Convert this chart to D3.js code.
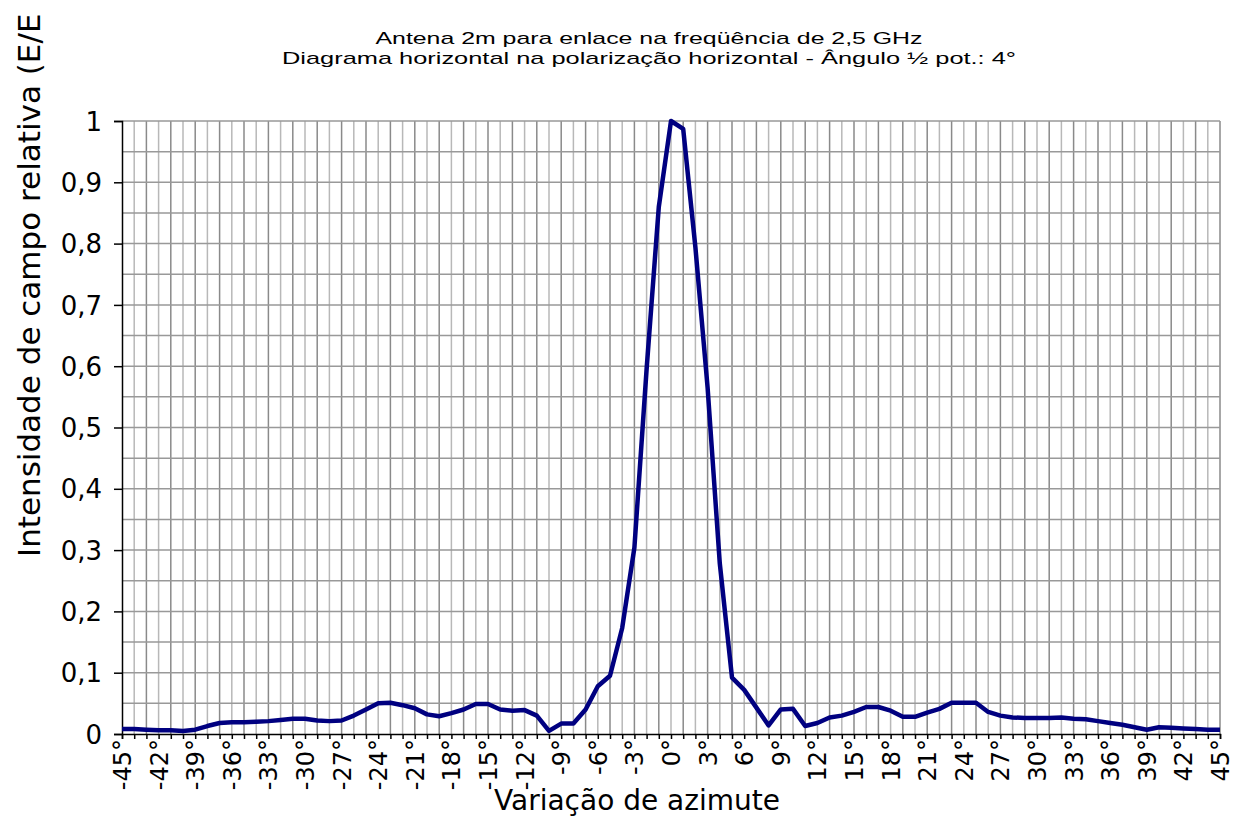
<!DOCTYPE html>
<meta charset="utf-8">
<style>
body{margin:0;background:white}
text{font-family:"DejaVu Sans",sans-serif;fill:#000}
.title{font-family:"Liberation Sans",sans-serif;font-size:17px}
</style>
<svg width="1236" height="817"></svg>
<script src="https://d3js.org/d3.v7.min.js"></script>
<script>

// azimuth in degrees, one point per degree
var angles = d3.range(-45, 46);

// relative field E/Emax
var field = [
  0.008, 0.008, 0.007, 0.006, 0.006, 0.005, 0.007, 0.013, 0.018, 0.019,   // -45..-36
  0.019, 0.020, 0.021, 0.023, 0.025, 0.025, 0.022, 0.021, 0.022, 0.030,   // -35..-26
  0.040, 0.050, 0.051, 0.047, 0.042, 0.032, 0.029, 0.034, 0.040, 0.049,   // -25..-16
  0.049, 0.040, 0.038, 0.039, 0.030, 0.005, 0.017, 0.017, 0.040, 0.078,   // -15..-6
  0.095, 0.173, 0.304, 0.595, 0.860, 1.000, 0.987, 0.794, 0.565, 0.278,   // -5..4
  0.092, 0.072, 0.043, 0.014, 0.040, 0.041, 0.013, 0.018, 0.027, 0.030,   // 5..14
  0.036, 0.044, 0.044, 0.038, 0.028, 0.028, 0.035, 0.041, 0.051, 0.051,   // 15..24
  0.051, 0.036, 0.030, 0.027, 0.026, 0.026, 0.026, 0.027, 0.025, 0.024,   // 25..34
  0.021, 0.018, 0.015, 0.011, 0.007, 0.011, 0.010, 0.009, 0.008, 0.007,   // 35..44
  0.007                                                                   // 45
];

var yTicks = [0, 0.1, 0.2, 0.3, 0.4, 0.5, 0.6, 0.7, 0.8, 0.9, 1];
var xTicks = d3.range(-45, 46, 3);

var titleLines = [
  "Antena 2m para enlace na freqüência de 2,5 GHz",
  "Diagrama horizontal na polarização horizontal - Ângulo ½ pot.: 4°"
];
var titleWidths = [547, 734];

var svg = d3.select("svg");
var mLeft = 122, mRight = 1220, mTop = 121, mBottom = 734;

var x = d3.scaleLinear().domain([-45, 45]).range([mLeft, mRight]);
var y = d3.scaleLinear().domain([0, 1]).range([mBottom, mTop]);

// grid
var grid = svg.append("g");
grid.selectAll("line.v")
  .data(d3.range(-44, 46))
  .enter().append("line")
    .attr("x1", d => x(d)).attr("x2", d => x(d))
    .attr("y1", mTop).attr("y2", mBottom)
    .attr("stroke", d => (Math.abs(d) % 2 === 1) ? "#8a8a8a" : "#b8b8b8")
    .attr("stroke-width", 1.5);
grid.selectAll("line.h")
  .data(d3.range(1, 21).map(i => i * 0.05))
  .enter().append("line")
    .attr("x1", mLeft).attr("x2", mRight)
    .attr("y1", d => y(d)).attr("y2", d => y(d))
    .attr("stroke", "#999")
    .attr("stroke-width", 1.5);

// y axis
var yAxis = svg.append("g")
    .attr("transform", "translate(" + mLeft + ",0)")
    .call(d3.axisLeft(y).tickValues(yTicks).tickSize(8).tickPadding(12)
      .tickFormat(d => d3.format(".1~f")(d).replace(".", ",")));
yAxis.select(".domain").attr("stroke", "#000").attr("stroke-width", 1.5);
yAxis.selectAll(".tick line").attr("stroke", "#000").attr("stroke-width", 1.5);
yAxis.selectAll("text").style("font-size", "26px").attr("dy", "0.35em");

// x axis
var xAxis = svg.append("g")
    .attr("transform", "translate(0," + mBottom + ")")
    .call(d3.axisBottom(x).tickValues(d3.range(-45, 46)).tickSize(5)
      .tickFormat(d => xTicks.indexOf(d) >= 0 ? d + "°" : ""));
xAxis.select(".domain").attr("stroke", "#000").attr("stroke-width", 1.5);
xAxis.selectAll(".tick line").attr("stroke", "#000").attr("stroke-width", 1.5);
xAxis.selectAll("text")
    .style("font-size", "24px")
    .attr("text-anchor", "end")
    .attr("transform", "rotate(-90)")
    .attr("x", -5).attr("y", 0).attr("dy", "0.35em");

// line
var line = d3.line().x((d, i) => x(angles[i])).y(d => y(d));
svg.append("path")
    .datum(field)
    .attr("fill", "none")
    .attr("stroke", "#000080")
    .attr("stroke-width", 4.5)
    .attr("stroke-linejoin", "round")
    .attr("d", line);

// titles
svg.append("g").selectAll("text")
  .data(titleLines)
  .enter().append("text")
    .attr("class", "title")
    .attr("x", 649).attr("y", (d, i) => 44 + i * 20)
    .attr("text-anchor", "middle")
    .attr("textLength", (d, i) => titleWidths[i])
    .attr("lengthAdjust", "spacingAndGlyphs")
    .text(d => d);

svg.append("text")
    .attr("x", 637).attr("y", 810)
    .attr("text-anchor", "middle")
    .style("font-size", "28px")
    .text("Variação de azimute");

svg.append("text")
    .attr("transform", "translate(40,557) rotate(-90)")
    .attr("text-anchor", "start")
    .style("font-size", "31px")
    .text("Intensidade de campo relativa (E/E");

</script>
